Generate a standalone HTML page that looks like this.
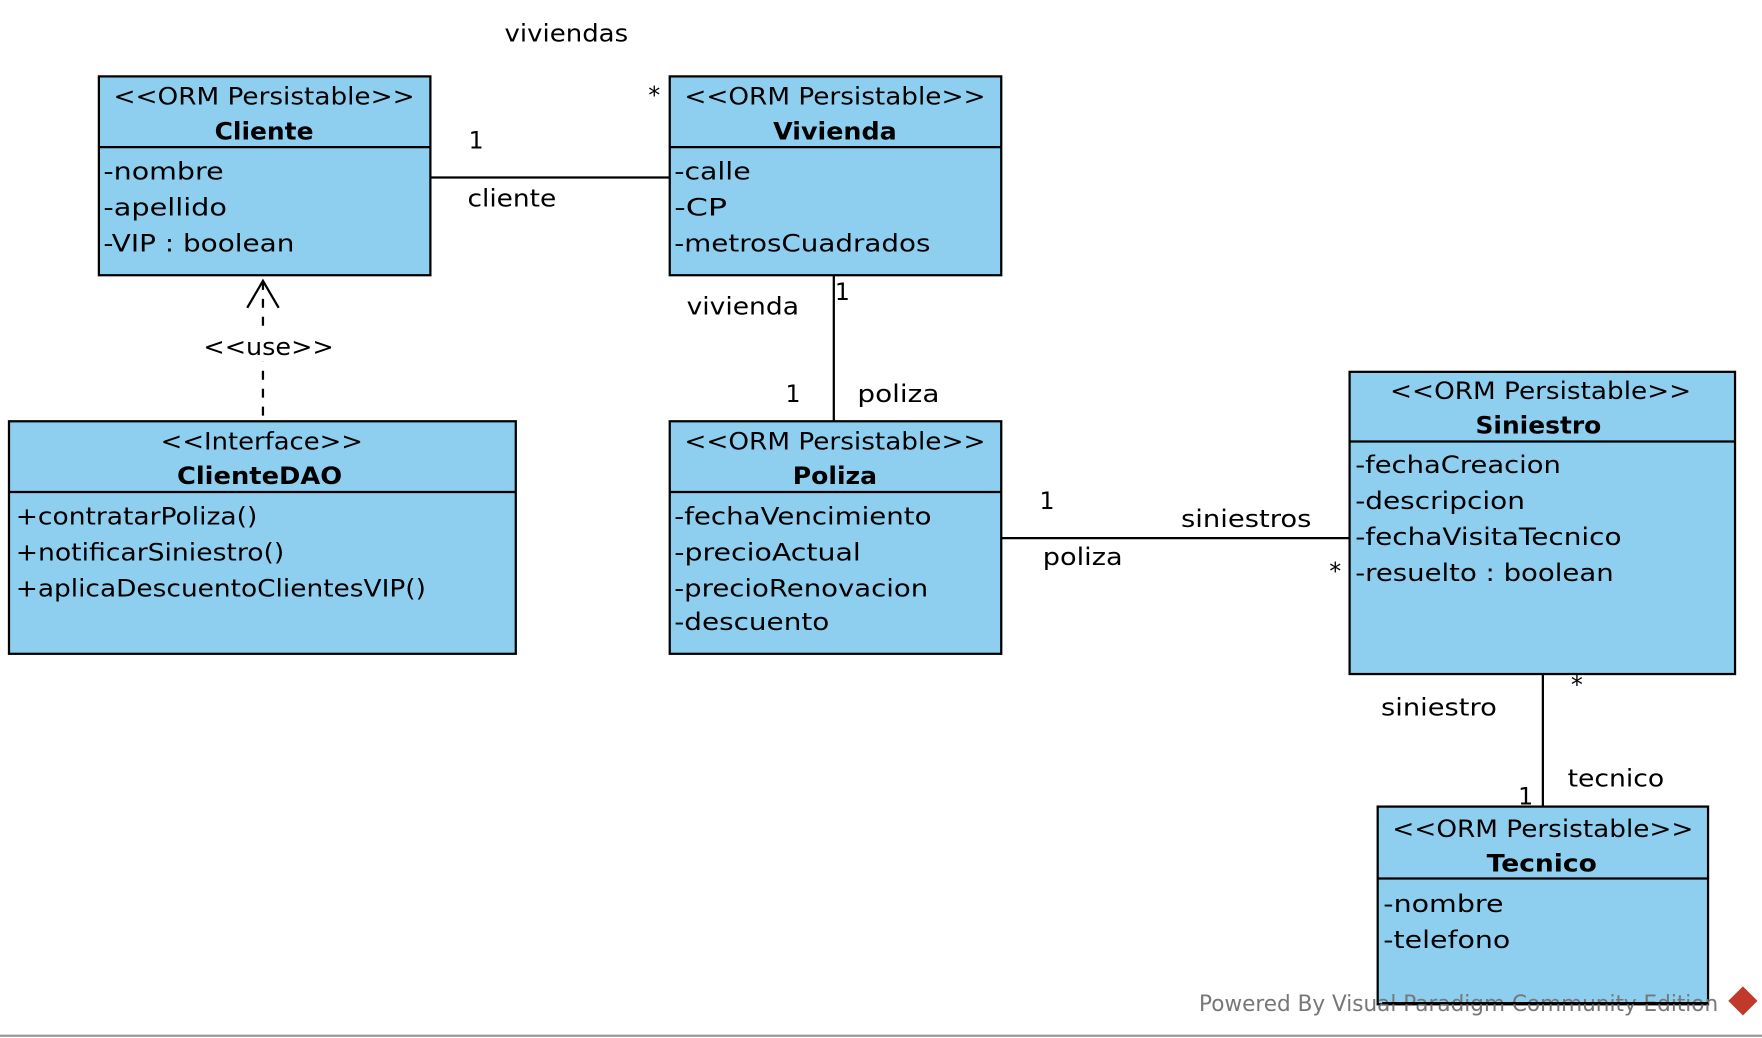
<!DOCTYPE html>
<html><head><meta charset="utf-8"><style>
html,body{margin:0;padding:0;background:#fff}
svg{display:block}
text{font-family:"DejaVu Sans","Liberation Sans",sans-serif;font-size:21px;fill:#000}
.b{font-weight:bold}
rect.c{fill:#8ECFF0;stroke:#000;stroke-width:2}
line{stroke:#000;stroke-width:2}
</style></head><body>
<svg width="1762" height="1038" viewBox="0 0 1568 924" preserveAspectRatio="none">
<line x1="383" y1="158" x2="596" y2="158"/>
<line x1="742" y1="245" x2="742" y2="375"/>
<line x1="891" y1="479" x2="1201" y2="479"/>
<line x1="1373" y1="600" x2="1373" y2="718"/>
<line x1="234" y1="250" x2="234" y2="375" stroke-dasharray="8,8"/>
<polyline points="220,274 234,250 248,274" fill="none" stroke="#000" stroke-width="2"/>
<rect x="178" y="294" width="122" height="28" fill="#fff"/>
<text x="239" y="316" text-anchor="middle" textLength="116" lengthAdjust="spacingAndGlyphs">&lt;&lt;use&gt;&gt;</text>

<rect class="c" x="88" y="68" width="295" height="177"/>
<line x1="88" y1="131" x2="383" y2="131"/>
<text x="235" y="93" text-anchor="middle" textLength="268" lengthAdjust="spacingAndGlyphs">&lt;&lt;ORM Persistable&gt;&gt;</text>
<text x="235" y="124" text-anchor="middle" class="b" textLength="88" lengthAdjust="spacingAndGlyphs">Cliente</text>
<text x="92" y="160" textLength="107" lengthAdjust="spacingAndGlyphs">-nombre</text>
<text x="92" y="192" textLength="110" lengthAdjust="spacingAndGlyphs">-apellido</text>
<text x="92" y="224" textLength="170" lengthAdjust="spacingAndGlyphs">-VIP : boolean</text>

<rect class="c" x="596" y="68" width="295" height="177"/>
<line x1="596" y1="131" x2="891" y2="131"/>
<text x="743" y="93" text-anchor="middle" textLength="268" lengthAdjust="spacingAndGlyphs">&lt;&lt;ORM Persistable&gt;&gt;</text>
<text x="743" y="124" text-anchor="middle" class="b" textLength="110" lengthAdjust="spacingAndGlyphs">Vivienda</text>
<text x="600" y="160" textLength="68" lengthAdjust="spacingAndGlyphs">-calle</text>
<text x="600" y="192" textLength="47" lengthAdjust="spacingAndGlyphs">-CP</text>
<text x="600" y="224" textLength="228" lengthAdjust="spacingAndGlyphs">-metrosCuadrados</text>

<rect class="c" x="8" y="375" width="451" height="207"/>
<line x1="8" y1="438" x2="459" y2="438"/>
<text x="233" y="400" text-anchor="middle" textLength="180" lengthAdjust="spacingAndGlyphs">&lt;&lt;Interface&gt;&gt;</text>
<text x="231" y="431" text-anchor="middle" class="b" textLength="147" lengthAdjust="spacingAndGlyphs">ClienteDAO</text>
<text x="14" y="467" textLength="215" lengthAdjust="spacingAndGlyphs">+contratarPoliza()</text>
<text x="14" y="499" textLength="239" lengthAdjust="spacingAndGlyphs">+notificarSiniestro()</text>
<text x="14" y="531" textLength="365" lengthAdjust="spacingAndGlyphs">+aplicaDescuentoClientesVIP()</text>

<rect class="c" x="596" y="375" width="295" height="207"/>
<line x1="596" y1="438" x2="891" y2="438"/>
<text x="743" y="400" text-anchor="middle" textLength="268" lengthAdjust="spacingAndGlyphs">&lt;&lt;ORM Persistable&gt;&gt;</text>
<text x="743" y="431" text-anchor="middle" class="b" textLength="75" lengthAdjust="spacingAndGlyphs">Poliza</text>
<text x="600" y="467" textLength="229" lengthAdjust="spacingAndGlyphs">-fechaVencimiento</text>
<text x="600" y="499" textLength="166" lengthAdjust="spacingAndGlyphs">-precioActual</text>
<text x="600" y="531" textLength="226" lengthAdjust="spacingAndGlyphs">-precioRenovacion</text>
<text x="600" y="561" textLength="138" lengthAdjust="spacingAndGlyphs">-descuento</text>

<rect class="c" x="1201" y="331" width="343" height="269"/>
<line x1="1201" y1="393" x2="1544" y2="393"/>
<text x="1371" y="355" text-anchor="middle" textLength="268" lengthAdjust="spacingAndGlyphs">&lt;&lt;ORM Persistable&gt;&gt;</text>
<text x="1369" y="386" text-anchor="middle" class="b" textLength="112" lengthAdjust="spacingAndGlyphs">Siniestro</text>
<text x="1206" y="421" textLength="183" lengthAdjust="spacingAndGlyphs">-fechaCreacion</text>
<text x="1206" y="453" textLength="151" lengthAdjust="spacingAndGlyphs">-descripcion</text>
<text x="1206" y="485" textLength="237" lengthAdjust="spacingAndGlyphs">-fechaVisitaTecnico</text>
<text x="1206" y="517" textLength="230" lengthAdjust="spacingAndGlyphs">-resuelto : boolean</text>

<rect class="c" x="1226" y="718" width="294" height="176"/>
<line x1="1226" y1="782" x2="1520" y2="782"/>
<text x="1373" y="745" text-anchor="middle" textLength="268" lengthAdjust="spacingAndGlyphs">&lt;&lt;ORM Persistable&gt;&gt;</text>
<text x="1372" y="776" text-anchor="middle" class="b" textLength="98" lengthAdjust="spacingAndGlyphs">Tecnico</text>
<text x="1231" y="812" textLength="107" lengthAdjust="spacingAndGlyphs">-nombre</text>
<text x="1231" y="844" textLength="113" lengthAdjust="spacingAndGlyphs">-telefono</text>

<text x="449" y="37" textLength="110" lengthAdjust="spacingAndGlyphs">viviendas</text>
<text x="577" y="92">*</text>
<text x="417" y="132">1</text>
<text x="416" y="184" textLength="79" lengthAdjust="spacingAndGlyphs">cliente</text>
<text x="743" y="267">1</text>
<text x="611" y="280" textLength="100" lengthAdjust="spacingAndGlyphs">vivienda</text>
<text x="699" y="358">1</text>
<text x="763" y="358" textLength="73" lengthAdjust="spacingAndGlyphs">poliza</text>
<text x="925" y="453">1</text>
<text x="1051" y="469" textLength="116" lengthAdjust="spacingAndGlyphs">siniestros</text>
<text x="928" y="503" textLength="71" lengthAdjust="spacingAndGlyphs">poliza</text>
<text x="1183" y="516">*</text>
<text x="1398" y="617">*</text>
<text x="1229" y="637" textLength="103" lengthAdjust="spacingAndGlyphs">siniestro</text>
<text x="1395" y="700" textLength="86" lengthAdjust="spacingAndGlyphs">tecnico</text>
<text x="1351" y="716">1</text>
<text x="1067" y="900" style="fill:#777;font-size:20px" textLength="462" lengthAdjust="spacingAndGlyphs">Powered By Visual Paradigm Community Edition</text>
<line x1="1230" y1="893" x2="1520" y2="893"/>
<polygon points="1551,878 1564,891 1551,904 1538,891" fill="#c0392b"/>
<line x1="0" y1="922" x2="1568" y2="922" style="stroke:#999"/>
</svg>
</body></html>
